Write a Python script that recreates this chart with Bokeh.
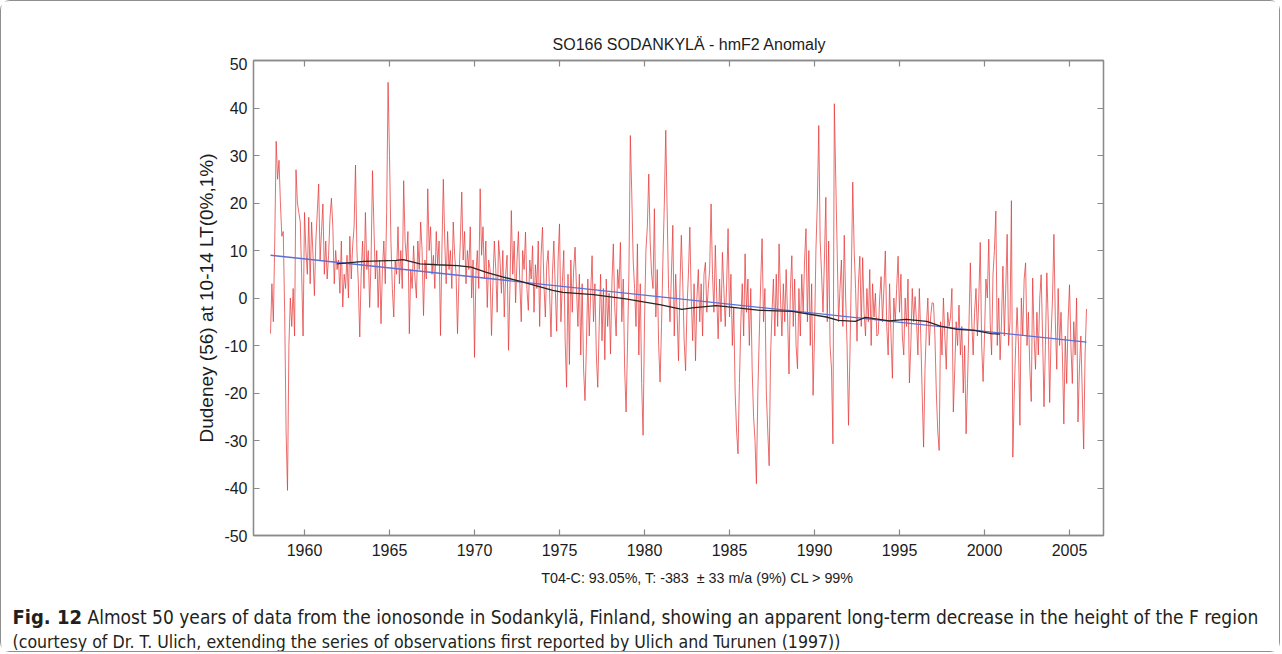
import numpy as np
from bokeh.plotting import figure
from bokeh.models import (Range1d, LinearAxis, FixedTicker, Label, CustomJSTickFormatter,
                          Column)
from bokeh.embed import file_html
from bokeh.resources import INLINE

# ---------------- data ----------------
start_year = 1958.0          # first monthly value
anomaly = [
    -7.5, 3, -5, 12, 33, 25, 29, 20, 13, 14, -3, -28,            # 1958
    -40.5, -10, 0, -6, 2, -8, 27, 20, 18, 16, 5, -8,             # 1959
    18, 10, 5, 17, 3, 16, 9, 0.5, 12, 18, 24, 8,                 # 1960
    14, 19.8, 5, 12, 4, 9, 17, 21, 15, 3, 10, 6,                 # 1961
    8, 1, 12, -1.9, 5, 2, 9, 0, 13, 4, 11, 15,                   # 1962
    28, 10, 3, -8.2, 5, 12, 2, 18, 6, 10, -2, 8,                 # 1963
    26.8, 15, 4, 10, -2, 8, -5.4, 6, 12, 3, 18, 45.4,            # 1964
    30, 12, 2, -4, 8, 5, 15, 3, 10, 2, 24.7, 12,                 # 1965
    8, 14, -7.5, 6, 2, 11, 4, 0, 12, 6, 16, 10,                  # 1966
    -3.7, 8, 4, 23, 10, 15, 5, 9, 2, 14, 7, 12,                  # 1967
    -7.9, 10, 25, 12, 3, 14, 6, 10, 2, 16, 9, 5,                 # 1968
    -7.5, 4, 12, 22.3, 8, 14, 3, 10, 6, 15, 0, 8,                # 1969
    -12.5, 5, 10, 2, 23, 9, 15, 4, 12, -2, 8, 6,                 # 1970
    -7.9, 3, 12, 6, -3, 12.1, 8, 1, 10, -4, 5, 9,                # 1971
    -11, 2, 18.4, 5, 12, -1, 8, 14, 3, -5, 10, 6,                # 1972
    13.9, 2, -2.6, 8, 4, 11, -3, 7, 2, 12, -6, 9,                # 1973
    14.9, 3, -4, 7, 10, 1, -8.2, 5, 12, 2, -7, 8,                # 1974
    15.6, -5, 3, 10, -9, -18.8, 5, -14, 8, -3, 6, 10.7,          # 1975
    2, -6, 5, -12, 3, -15, -21.6, -10, 4, -8, 1, 8.9,            # 1976
    -5, 3, -12, -18.8, -6, 5, -9, 2, -13, 4, -6, 1,              # 1977
    -11.8, 3, 11.4, -2, -8, 6, 2, 11.7, -5, 4, -15, -24,         # 1978
    -10, 5, 34.2, 22, 8, 2, -6, 11.4, -12, 3, -18, -28.9,        # 1979
    -5, 10, 15, 26.1, 12, 5, 2, 18.8, -4, 6, -10, -17.7,         # 1980
    -6, 8, 20, 35.3, 18, 2, -5, 5, 15.3, -8, 5, -3,              # 1981
    -13.2, 2, 13.2, 3, -9, -15.3, -2, 5, 14.9, 0, -9, 3,         # 1982
    -13.2, 0, 6, -5, 3, -8, 5, 7.5, -3, 2, 6, 19.8,              # 1983
    5, -3, 11.1, 0, -8.6, 4, -5, 9.6, 2, -6, 3, 14.6,            # 1984
    -4, 5, -10, -2, -20, -28, -32.8, -18, -5, 3, -8, 9.3,        # 1985
    -3, 4, -10, 2, -15, -25, -30, -39.1, -20, -8, 3, 12.5,       # 1986
    -5, 2, -20, -28, -35.3, -12, -3, 4, -8, 5, -6, 11.4,         # 1987
    0, -8, 3, -5, 6, -4, -16, 2, 8.9, -6, 4, -10,                # 1988
    -14.9, 2, -8, 5, -3, 8, 14.6, -5, 10, -10, 3, -20.5,         # 1989
    -8, 10, 20, 36.3, 12, 5, -3, 8, 21.2, -5, 12, -10,           # 1990
    -15, -30.7, 40.9, 25, 10, -5, 2, 8, -6, 13.2, 0, -10,        # 1991
    -26.8, -12, 5, 24.4, 10, 2, -9.1, 3, 8.8, -6, 8.5, -3,       # 1992
    -8, 2, -5, 6.0, -10, 3, -4, 1, -8, -7.6, 0, 4.5,             # 1993
    -5, 2, 9.9, -6, -12, 3, -8, -16.9, 0, -5, 2, 8.8,            # 1994
    -3, 5, -8, -12, 0, -6, 4, -17.9, -10, 2, -5, 0.3,            # 1995
    -5, -12, 2, -8, -20, -31.4, -15, -6, 0, -10, -4, -1,         # 1996
    -1.1, -8, -20, -28, -32.1, -5, -12, 0, -8, -15, -3, -6,      # 1997
    -4, 2.0, -24, -15, -5, -10, -1.5, -12, -6, -20, -10, -28.6,  # 1998
    -18, -6, 7.4, -5, -12, -3, 2, -8, 0, 11.7, -10, -17.6,       # 1999
    -8, 4, 0, 12.4, -5, -12, 5, 10, 18.3, -10, 0, -13,           # 2000
    -5, 6.7, -8, 2, 13.4, -10, -5, 20.5, -33.5, -20, -10, -2,    # 2001
    -10, -26.8, 0, -8, 4, 7.4, -10, -3, -15, -21.8, 4.2, -8,     # 2002
    -15, -3, -12, 0, 4.9, -8, -22.9, -10, 5.3, -5, -22, -8,      # 2003
    0, 13.4, -5, -15, 2, -10, -3, -12, -26.5, -8, -18, -5,       # 2004
    2.8, -10, -18, -5, -12, 0, -26.1, -15, -8, -20, -31.8, -12,  # 2005
    -2.3,                                                        # 2006
]

running_years = [1961.9, 1963.5, 1965.4, 1965.8, 1966.8, 1967.8, 1969.0, 1969.8,
                 1970.7, 1971.7, 1972.7, 1973.6, 1974.6, 1975.2, 1977.0, 1978.9,
                 1980.1, 1980.9, 1982.2, 1982.8, 1984.2, 1984.8, 1986.8, 1988.7,
                 1990.7, 1991.4, 1992.4, 1993.0, 1994.4, 1995.4, 1996.6, 1997.4,
                 1998.4, 1999.4, 2000.4, 2000.9]
running_mean = [7.2, 7.7, 7.9, 8.1, 7.2, 7.0, 6.8, 6.5,
                5.4, 4.4, 3.5, 2.6, 1.6, 1.2, 0.7, -0.2,
                -0.9, -1.4, -2.4, -2.1, -1.6, -1.8, -2.6, -2.8,
                -4.0, -4.7, -4.9, -4.1, -4.8, -4.5, -4.9, -5.9,
                -6.6, -6.8, -7.5, -7.6]

trend_years = [1958.0, 2006.0]
trend_vals = [9.0, -9.3]

x_ticks = [1960, 1965, 1970, 1975, 1980, 1985, 1990, 1995, 2000, 2005]
y_ticks = [-50, -40, -30, -20, -10, 0, 10, 20, 30, 40, 50]

title_text = "SO166 SODANKYLÄ - hmF2 Anomaly"
xlabel_text = "T04-C: 93.05%, T: -383 \u00a0\u00b1 33 m/a (9%) CL > 99%"
ylabel_text = "Dudeney (56) at 10-14 LT(0%,1%)"
caption_bold = "Fig. 12"
caption_line1 = ("Almost 50 years of data from the ionosonde in Sodankylä, Finland, showing an "
                 "apparent long-term decrease in the height of the F region")
caption_line2 = ("(courtesy of Dr. T. Ulich, extending the series of observations first "
                 "reported by Ulich and Turunen (1997))")

# ---------------- styling ----------------
W = 1278
FRAME = "#8a8a8a"
FONT = "Liberation Sans"
TXT = "#1c1c1c"
CAP = "DejaVu Sans Condensed, Liberation Sans"
CAPC = "#231f20"


def text_strip(height):
    f = figure(width=W, height=height, output_backend="svg", toolbar_location=None,
               min_border=0, x_range=Range1d(0, 1), y_range=Range1d(0, 1),
               x_axis_location=None, y_axis_location=None)
    f.frame_align = False
    f.grid.visible = False
    f.outline_line_color = None
    return f


# title strip
top = text_strip(56)
top.add_layout(Label(x=688, y=13, x_units="screen", y_units="screen", text=title_text,
                     text_font=FONT, text_font_size="16px", text_color=TXT,
                     text_align="center", text_baseline="middle"))

# main chart
months = start_year + np.arange(len(anomaly)) / 12.0
p = figure(width=W, height=510, output_backend="svg", toolbar_location=None,
           x_range=Range1d(1957, 2007), y_range=Range1d(-50, 50),
           min_border_left=252, min_border_right=176, min_border_top=3,
           min_border_bottom=32)
p.frame_align = False
p.grid.visible = False
p.outline_line_color = FRAME
p.outline_line_width = 1.3


def style_axis(ax, ticks, show_labels):
    ax.ticker = FixedTicker(ticks=ticks)
    ax.axis_line_color = FRAME
    ax.axis_line_width = 1.3
    ax.major_tick_line_color = FRAME
    ax.major_tick_line_width = 1.2
    ax.major_tick_in = 6
    ax.major_tick_out = 0
    ax.minor_tick_line_color = None
    ax.major_label_text_font = FONT
    ax.major_label_text_color = TXT
    if show_labels:
        ax.major_label_text_font_size = "16px"
        ax.formatter = CustomJSTickFormatter(code="return String(tick)")
    else:
        ax.major_label_text_font_size = "0px"
        ax.major_label_standoff = 0
        ax.formatter = CustomJSTickFormatter(code="return ''")


style_axis(p.xaxis[0], x_ticks, True)
style_axis(p.yaxis[0], y_ticks, True)
p.xaxis[0].major_label_standoff = 8
p.yaxis[0].major_label_standoff = 6
p.yaxis[0].axis_label = ylabel_text
p.yaxis[0].axis_label_text_font = FONT
p.yaxis[0].axis_label_text_font_size = "19px"
p.yaxis[0].axis_label_text_font_style = "normal"
p.yaxis[0].axis_label_text_color = TXT
p.yaxis[0].axis_label_standoff = 4

top_axis = LinearAxis()
style_axis(top_axis, x_ticks, False)
p.add_layout(top_axis, "above")
right_axis = LinearAxis()
style_axis(right_axis, y_ticks, False)
p.add_layout(right_axis, "right")

p.line(months, anomaly, line_color="#e63b3b", line_width=1.0, line_alpha=0.75)
p.line(trend_years, trend_vals, line_color="#5b6fd6", line_width=1.3)
p.line(running_years, running_mean, line_color="#262626", line_width=1.3)

# bottom strip: x label and figure caption
bot = text_strip(84)
bot.add_layout(Label(x=696, y=74, x_units="screen", y_units="screen", text=xlabel_text,
                     text_font=FONT, text_font_size="14.3px", text_color=TXT,
                     text_align="center", text_baseline="middle"))
bot.add_layout(Label(x=11, y=35, x_units="screen", y_units="screen", text=caption_bold,
                     text_font=CAP, text_font_size="20px", text_font_style="bold",
                     text_color=CAPC, text_align="left", text_baseline="middle"))
bot.add_layout(Label(x=86, y=35, x_units="screen", y_units="screen", text=caption_line1,
                     text_font=CAP, text_font_size="19px",
                     text_color=CAPC, text_align="left", text_baseline="middle"))
bot.add_layout(Label(x=11, y=10, x_units="screen", y_units="screen", text=caption_line2,
                     text_font=CAP, text_font_size="17.6px",
                     text_color=CAPC, text_align="left", text_baseline="middle"))

layout = Column(children=[top, p, bot], spacing=0,
                styles={"border": "1px solid #8f8f8f", "border-radius": "10px"})

open("out.html", "w").write(file_html(layout, INLINE))
